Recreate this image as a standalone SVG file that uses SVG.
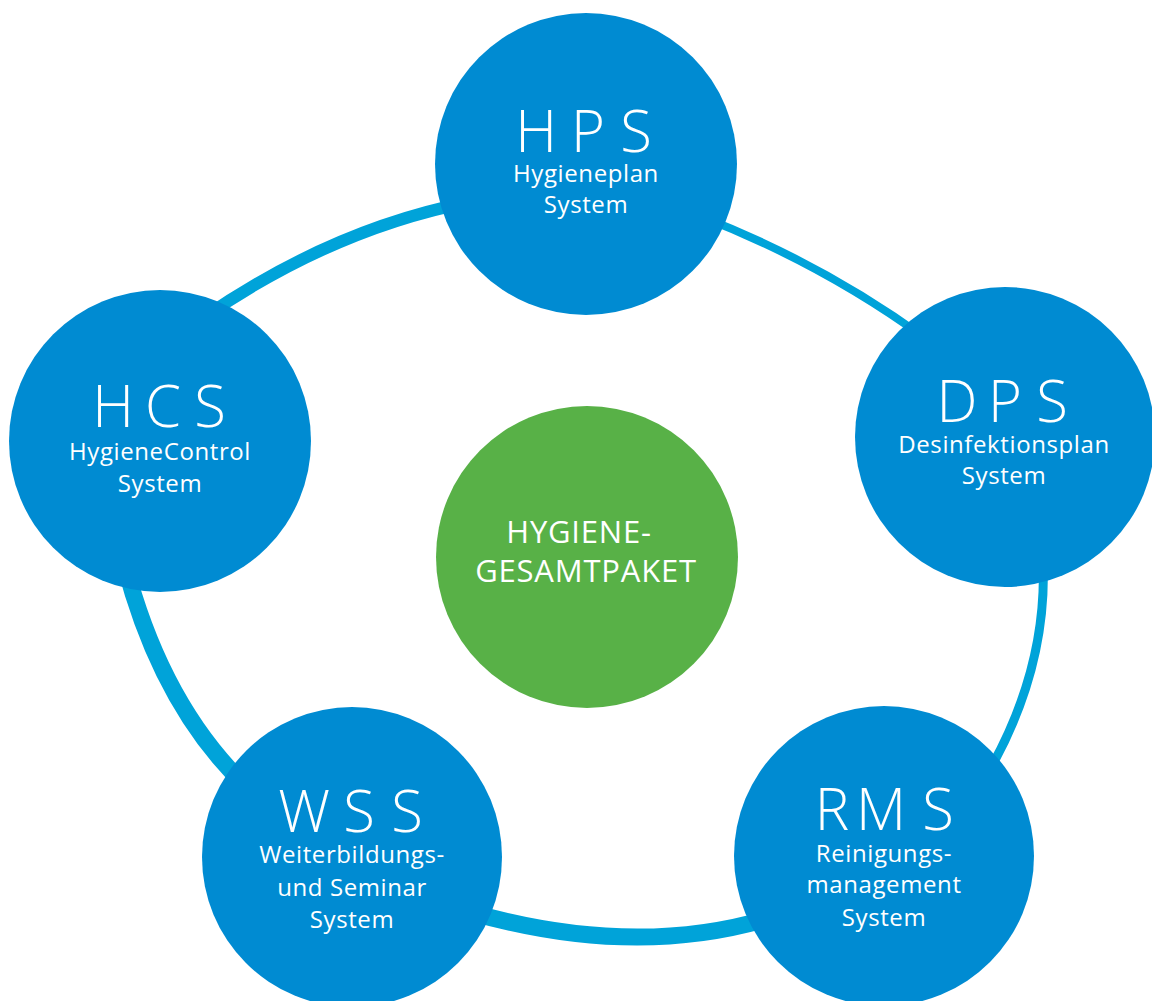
<svg xmlns="http://www.w3.org/2000/svg" width="1152" height="1001" viewBox="0 0 1152 1001">
<style>
.ring{fill:none;stroke:#00A3D9;stroke-linecap:butt}
.node{fill:#008BD2}
.core{fill:#58B147}
.abbr{font-family:"Open Sans","Liberation Sans",sans-serif;font-weight:300;font-size:58px;fill:#fff;text-anchor:middle}
.sub{font-family:"Open Sans","Liberation Sans",sans-serif;font-weight:400;font-size:24px;letter-spacing:0.6px;fill:#fff;text-anchor:middle}
.ctr{font-family:"Open Sans","Liberation Sans",sans-serif;font-weight:400;font-size:31px;letter-spacing:0.8px;fill:#fff;text-anchor:middle}
</style>
<rect width="1152" height="1001" fill="#fff"/>
<g id="connectors">
<path class="ring" stroke-width="12" d="M200,320 Q331,229 470,202"/>
<path class="ring" stroke-width="8" d="M700,216 Q821.5,263 925,338"/>
<path class="ring" stroke-width="9" d="M1043,560 Q1048,671 985,778"/>
<path class="ring" stroke-width="17" d="M470,912 Q634,959 770,918"/>
<path class="ring" stroke-width="17" d="M125,565 Q162.5,708.5 250,790"/>
</g>
<g id="hps">
<circle class="node" cx="586" cy="164" r="151"/>
<text class="abbr" x="536 588 636" y="152">HPS</text>
<text class="sub" x="586" y="182">Hygieneplan</text>
<text class="sub" x="586" y="213">System</text>
</g>
<g id="dps">
<circle class="node" cx="1005" cy="437" r="150"/>
<text class="abbr" x="957 1005 1052" y="422">DPS</text>
<text class="sub" x="1004" y="453">Desinfektionsplan</text>
<text class="sub" x="1004" y="484">System</text>
</g>
<g id="rms">
<circle class="node" cx="884" cy="856" r="150"/>
<text class="abbr" x="832 881 938" y="830">RMS</text>
<text class="sub" x="884" y="862">Reinigungs-</text>
<text class="sub" x="884" y="893">management</text>
<text class="sub" x="884" y="926">System</text>
</g>
<g id="wss">
<circle class="node" cx="352" cy="857" r="150"/>
<text class="abbr" x="304 359 407" y="832">WSS</text>
<text class="sub" x="352" y="863">Weiterbildungs-</text>
<text class="sub" x="352" y="896">und Seminar</text>
<text class="sub" x="352" y="928">System</text>
</g>
<g id="hcs">
<circle class="node" cx="160" cy="441" r="151"/>
<text class="abbr" x="113 163 210" y="427">HCS</text>
<text class="sub" x="160" y="460">HygieneControl</text>
<text class="sub" x="160" y="492">System</text>
</g>
<g id="center">
<circle class="core" cx="587" cy="557" r="151"/>
<text class="ctr" x="579" y="543">HYGIENE-</text>
<text class="ctr" x="586" y="582">GESAMTPAKET</text>
</g>
</svg>
